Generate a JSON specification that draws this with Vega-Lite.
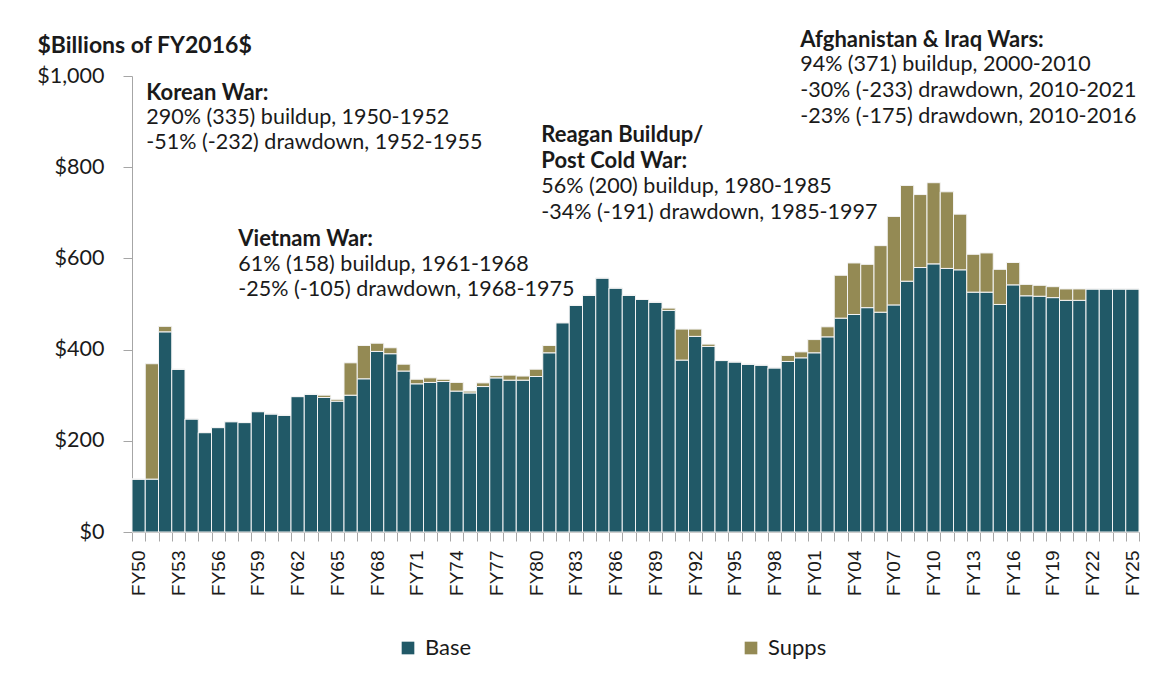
{
  "$schema": "https://vega.github.io/schema/vega-lite/v6.json",
  "autosize": {"type": "none"},
  "width": 1007,
  "height": 456,
  "padding": {"left": 132, "top": 76, "right": 14, "bottom": 163},
  "background": "white",
  "config": {"view": {"stroke": null}, "font": "Lato"},
  "datasets": {
    "spend": [
      {"year": 1950, "Base": 116, "Supps": 0},
      {"year": 1951, "Base": 116, "Supps": 253},
      {"year": 1952, "Base": 439, "Supps": 12},
      {"year": 1953, "Base": 357, "Supps": 0},
      {"year": 1954, "Base": 248, "Supps": 0},
      {"year": 1955, "Base": 218, "Supps": 0},
      {"year": 1956, "Base": 229, "Supps": 0},
      {"year": 1957, "Base": 242, "Supps": 0},
      {"year": 1958, "Base": 240, "Supps": 0},
      {"year": 1959, "Base": 264, "Supps": 0},
      {"year": 1960, "Base": 259, "Supps": 0},
      {"year": 1961, "Base": 256, "Supps": 0},
      {"year": 1962, "Base": 297, "Supps": 0},
      {"year": 1963, "Base": 302, "Supps": 0},
      {"year": 1964, "Base": 295, "Supps": 5},
      {"year": 1965, "Base": 287, "Supps": 4},
      {"year": 1966, "Base": 300, "Supps": 71},
      {"year": 1967, "Base": 336, "Supps": 73},
      {"year": 1968, "Base": 396, "Supps": 18},
      {"year": 1969, "Base": 391, "Supps": 13},
      {"year": 1970, "Base": 353, "Supps": 15},
      {"year": 1971, "Base": 325, "Supps": 10},
      {"year": 1972, "Base": 328, "Supps": 10},
      {"year": 1973, "Base": 330, "Supps": 5},
      {"year": 1974, "Base": 309, "Supps": 19},
      {"year": 1975, "Base": 305, "Supps": 4},
      {"year": 1976, "Base": 319, "Supps": 8},
      {"year": 1977, "Base": 338, "Supps": 5},
      {"year": 1978, "Base": 333, "Supps": 11},
      {"year": 1979, "Base": 333, "Supps": 9},
      {"year": 1980, "Base": 341, "Supps": 16},
      {"year": 1981, "Base": 393, "Supps": 16},
      {"year": 1982, "Base": 459, "Supps": 0},
      {"year": 1983, "Base": 497, "Supps": 0},
      {"year": 1984, "Base": 519, "Supps": 0},
      {"year": 1985, "Base": 557, "Supps": 0},
      {"year": 1986, "Base": 535, "Supps": 0},
      {"year": 1987, "Base": 519, "Supps": 0},
      {"year": 1988, "Base": 510, "Supps": 0},
      {"year": 1989, "Base": 504, "Supps": 0},
      {"year": 1990, "Base": 486, "Supps": 5},
      {"year": 1991, "Base": 377, "Supps": 68},
      {"year": 1992, "Base": 429, "Supps": 16},
      {"year": 1993, "Base": 407, "Supps": 5},
      {"year": 1994, "Base": 376, "Supps": 0},
      {"year": 1995, "Base": 373, "Supps": 0},
      {"year": 1996, "Base": 368, "Supps": 0},
      {"year": 1997, "Base": 366, "Supps": 0},
      {"year": 1998, "Base": 360, "Supps": 0},
      {"year": 1999, "Base": 374, "Supps": 13},
      {"year": 2000, "Base": 382, "Supps": 13},
      {"year": 2001, "Base": 393, "Supps": 29},
      {"year": 2002, "Base": 428, "Supps": 22},
      {"year": 2003, "Base": 469, "Supps": 94},
      {"year": 2004, "Base": 477, "Supps": 113},
      {"year": 2005, "Base": 492, "Supps": 95},
      {"year": 2006, "Base": 482, "Supps": 146},
      {"year": 2007, "Base": 498, "Supps": 194},
      {"year": 2008, "Base": 550, "Supps": 210},
      {"year": 2009, "Base": 580, "Supps": 160},
      {"year": 2010, "Base": 588, "Supps": 178},
      {"year": 2011, "Base": 578, "Supps": 168},
      {"year": 2012, "Base": 575, "Supps": 122},
      {"year": 2013, "Base": 526, "Supps": 83},
      {"year": 2014, "Base": 526, "Supps": 86},
      {"year": 2015, "Base": 499, "Supps": 77},
      {"year": 2016, "Base": 542, "Supps": 49},
      {"year": 2017, "Base": 518, "Supps": 25},
      {"year": 2018, "Base": 517, "Supps": 24},
      {"year": 2019, "Base": 514, "Supps": 24},
      {"year": 2020, "Base": 508, "Supps": 25},
      {"year": 2021, "Base": 508, "Supps": 25},
      {"year": 2022, "Base": 533, "Supps": 0},
      {"year": 2023, "Base": 533, "Supps": 0},
      {"year": 2024, "Base": 533, "Supps": 0},
      {"year": 2025, "Base": 533, "Supps": 0}
    ],
    "notes": [
      {"px": 1950.58, "py": 962, "label": "Korean War:", "kind": "head"},
      {"px": 1950.58, "py": 907, "label": "290% (335) buildup, 1950-1952", "kind": "body"},
      {"px": 1950.58, "py": 852, "label": "-51% (-232) drawdown, 1952-1955", "kind": "body"},
      {"px": 1957.52, "py": 643, "label": "Vietnam War:", "kind": "head"},
      {"px": 1957.52, "py": 585, "label": "61% (158) buildup, 1961-1968", "kind": "body"},
      {"px": 1957.52, "py": 530, "label": "-25% (-105) drawdown, 1968-1975", "kind": "body"},
      {"px": 1980.39, "py": 870, "label": "Reagan Buildup/", "kind": "head"},
      {"px": 1980.39, "py": 813, "label": "Post Cold War:", "kind": "head"},
      {"px": 1980.39, "py": 756, "label": "56% (200) buildup, 1980-1985", "kind": "body"},
      {"px": 1980.39, "py": 699, "label": "-34% (-191) drawdown, 1985-1997", "kind": "body"},
      {"px": 1999.93, "py": 1080, "label": "Afghanistan & Iraq Wars:", "kind": "head"},
      {"px": 1999.93, "py": 1024, "label": "94% (371) buildup, 2000-2010", "kind": "body"},
      {"px": 1999.93, "py": 967, "label": "-30% (-233) drawdown, 2010-2021", "kind": "body"},
      {"px": 1999.93, "py": 910, "label": "-23% (-175) drawdown, 2010-2016", "kind": "body"}
    ]
  },
  "layer": [
    {
      "data": {"name": "spend"},
      "transform": [{"fold": ["Base", "Supps"], "as": ["type", "amount"]}],
      "mark": {"type": "bar", "stroke": "#f4f4f4", "strokeWidth": 1},
      "encoding": {
        "x": {
          "field": "year",
          "type": "ordinal",
          "scale": {"paddingInner": 0, "paddingOuter": 0},
          "axis": {
            "title": null,
            "labelExpr": "datum.value % 3 === 0 ? 'FY' + slice(toString(datum.value), 2) : ''",
            "labelAngle": -90,
            "labelFont": "Liberation Sans",
            "labelFontSize": 19,
            "labelColor": "#1a1a1a",
            "labelPadding": 9,
            "labelOverlap": false,
            "tickBand": "extent",
            "tickSize": 9,
            "tickColor": "#a6a6a6",
            "domainColor": "#a6a6a6"
          }
        },
        "y": {
          "field": "amount",
          "type": "quantitative",
          "stack": "zero",
          "scale": {"domain": [0, 1000], "nice": false},
          "axis": {
            "title": "$Billions of FY2016$",
            "titleAngle": 0,
            "titleAlign": "left",
            "titleBaseline": "middle",
            "titleX": -95,
            "titleY": -31,
            "titleFont": "Lato",
            "titleFontSize": 23,
            "titleFontWeight": "bold",
            "titleColor": "#1a1a1a",
            "values": [0, 200, 400, 600, 800, 1000],
            "format": "$,.0f",
            "labelFont": "Lato",
            "labelFontSize": 21.5,
            "labelColor": "#1a1a1a",
            "labelPadding": 19,
            "tickSize": 9,
            "tickColor": "#a6a6a6",
            "domainColor": "#a6a6a6",
            "grid": false
          }
        },
        "color": {
          "field": "type",
          "type": "nominal",
          "scale": {"domain": ["Base", "Supps"], "range": ["#215967", "#948A54"]},
          "legend": {
            "title": null,
            "orient": "none",
            "legendX": 265,
            "legendY": 561,
            "direction": "horizontal",
            "symbolType": "square",
            "symbolSize": 160,
            "symbolStrokeWidth": 0,
            "labelFont": "Lato",
            "labelFontSize": 22,
            "labelColor": "#1a1a1a",
            "labelOffset": 6,
            "columnPadding": 268,
            "padding": 0
          }
        },
        "order": {"field": "type", "sort": "ascending"}
      }
    },
    {
      "data": {"name": "notes"},
      "transform": [{"filter": "datum.kind === 'head'"}],
      "mark": {"type": "text", "align": "left", "baseline": "middle", "font": "Lato", "fontSize": 22, "fontWeight": "bold", "color": "#1a1a1a"},
      "encoding": {
        "x": {"field": "px", "type": "quantitative", "scale": {"domain": [1949.5, 2025.5], "nice": false, "zero": false}, "axis": null},
        "y": {"field": "py", "type": "quantitative", "scale": {"domain": [0, 1000], "nice": false}},
        "text": {"field": "label"}
      }
    },
    {
      "data": {"name": "notes"},
      "transform": [{"filter": "datum.kind === 'body'"}],
      "mark": {"type": "text", "align": "left", "baseline": "middle", "font": "Lato", "fontSize": 21.5, "color": "#1a1a1a"},
      "encoding": {
        "x": {"field": "px", "type": "quantitative", "scale": {"domain": [1949.5, 2025.5], "nice": false, "zero": false}, "axis": null},
        "y": {"field": "py", "type": "quantitative", "scale": {"domain": [0, 1000], "nice": false}},
        "text": {"field": "label"}
      }
    }
  ],
  "resolve": {"scale": {"x": "independent"}}
}
